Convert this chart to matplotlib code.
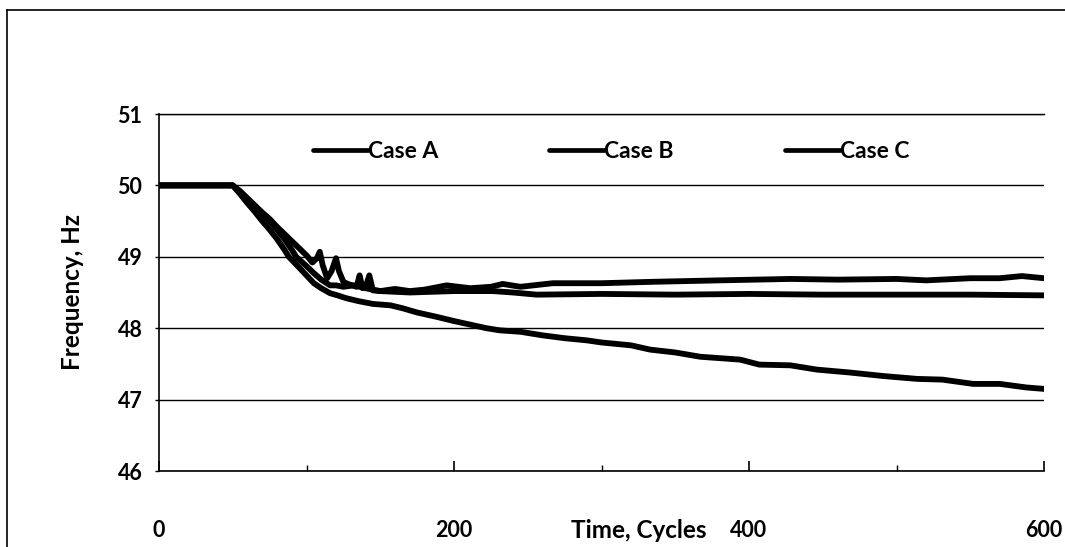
import matplotlib
matplotlib.use("Agg")
import matplotlib.pyplot as plt
from matplotlib.lines import Line2D

# ---- data ----
t_a = [0, 50, 55, 60, 65, 70, 75, 80, 85, 90, 95, 100, 104, 107, 109, 111, 114, 117, 120, 122,
       125, 128, 131, 134, 136, 138, 140, 142.6, 145, 150, 160, 170, 180, 195, 211, 225, 233,
       245, 267, 300, 335, 380, 428, 460, 500, 520, 550, 570, 585, 600]
f_a = [50.0, 50.0, 49.92, 49.82, 49.72, 49.62, 49.53, 49.42, 49.32, 49.22, 49.12, 49.02, 48.92,
       48.98, 49.07, 48.88, 48.70, 48.80, 48.98, 48.80, 48.65, 48.62, 48.60, 48.58, 48.74, 48.56,
       48.57, 48.74, 48.53, 48.52, 48.55, 48.52, 48.54, 48.60, 48.56, 48.58, 48.62, 48.58, 48.63,
       48.63, 48.65, 48.67, 48.69, 48.68, 48.69, 48.67, 48.70, 48.70, 48.73, 48.70]

t_b = [0, 50, 55, 60, 65, 70, 75, 80, 85, 90, 93, 100, 105, 110, 116, 120, 125, 132, 140, 150,
       170, 200, 226, 240, 256, 300, 350, 400, 450, 500, 550, 600]
f_b = [50.0, 50.0, 49.9, 49.8, 49.7, 49.6, 49.5, 49.38, 49.25, 49.1, 49.0, 48.87, 48.77, 48.68,
       48.6, 48.6, 48.58, 48.6, 48.56, 48.52, 48.5, 48.52, 48.52, 48.5, 48.47, 48.48, 48.47,
       48.48, 48.47, 48.47, 48.47, 48.46]

t_c = [0, 50, 55, 60, 65, 70, 75, 80, 85, 88, 95, 100, 105, 110, 116, 121, 127, 135, 145, 157,
       165, 175, 188, 200, 211, 222, 231, 245, 260, 275, 290, 300, 320, 333, 350, 367, 394, 407,
       428, 446, 468, 491, 514, 531, 552, 570, 588, 600]
f_c = [50.0, 50.0, 49.88, 49.75, 49.63, 49.5, 49.38, 49.25, 49.1, 49.0, 48.85, 48.74, 48.63,
       48.56, 48.49, 48.46, 48.42, 48.38, 48.34, 48.32, 48.28, 48.22, 48.16, 48.1, 48.05, 48.0,
       47.97, 47.95, 47.9, 47.86, 47.83, 47.8, 47.76, 47.7, 47.66, 47.6, 47.56, 47.49, 47.48,
       47.42, 47.38, 47.33, 47.29, 47.28, 47.22, 47.22, 47.17, 47.15]

series_labels = ["Case A", "Case B", "Case C"]
x_major = [0, 200, 400, 600]
x_minor = [100, 300, 500]
y_ticks = [46, 47, 48, 49, 50, 51]

plt.rcParams['font.family'] = ['Lato', 'DejaVu Sans']
plt.rcParams['font.weight'] = 'bold'

fig = plt.figure(figsize=(10.65, 5.47), dpi=100)
ax = fig.add_axes([159/1065, 1-471/547, (1044-159)/1065, (471-114)/547])

for t, f, lab in zip([t_a, t_b, t_c], [f_a, f_b, f_c], series_labels):
    ax.plot(t, f, color='black', linewidth=4.2, label=lab, solid_joinstyle='round',
            solid_capstyle='round')

ax.set_xlim(0, 600)
ax.set_ylim(46, 51)
ax.set_xticks(x_major)
ax.set_xticks(x_minor, minor=True)
ax.set_yticks(y_ticks)
ax.tick_params(axis='x', which='major', direction='in', length=7, width=1.2, pad=35, labelsize=15.5)
ax.tick_params(axis='x', which='minor', direction='in', length=4, width=1.0)
ax.tick_params(axis='y', which='major', direction='out', length=3, width=1.0, pad=9, labelsize=15.5)
for lbl in ax.get_xticklabels() + ax.get_yticklabels():
    lbl.set_fontweight('bold')

ax.yaxis.grid(True, color='black', linewidth=1.0)
ax.set_axisbelow(True)
ax.spines['right'].set_visible(False)
ax.spines['top'].set_linewidth(1.0)
ax.spines['left'].set_linewidth(1.2)
ax.spines['bottom'].set_linewidth(1.2)

ax.set_xlabel("Time, Cycles", fontsize=17.5, fontweight='bold', va='center')
ax.xaxis.set_label_coords((639-159)/885, (471-530)/357)
ax.set_ylabel("Frequency, Hz", fontsize=17.5, fontweight='bold', va='center')
ax.yaxis.set_label_coords((72-159)/885, (471-292)/357)

leg = ax.legend(loc='center left', bbox_to_anchor=((313-159)/885, (471-152)/357), ncol=3,
                frameon=False, handlelength=2.4, handletextpad=0.0, columnspacing=4.85,
                borderpad=0, borderaxespad=0, prop={'size': 16.5, 'weight': 'bold'})
for h in leg.get_lines():
    h.set_linewidth(3.4)

# outer frame (left and top edges)
fig.add_artist(Line2D([7/1065, 7/1065], [0, 1-10/547], color='black', linewidth=1.2))
fig.add_artist(Line2D([7/1065, 1.0], [1-10/547, 1-10/547], color='black', linewidth=1.2))

fig.savefig("out.png", dpi=100)
